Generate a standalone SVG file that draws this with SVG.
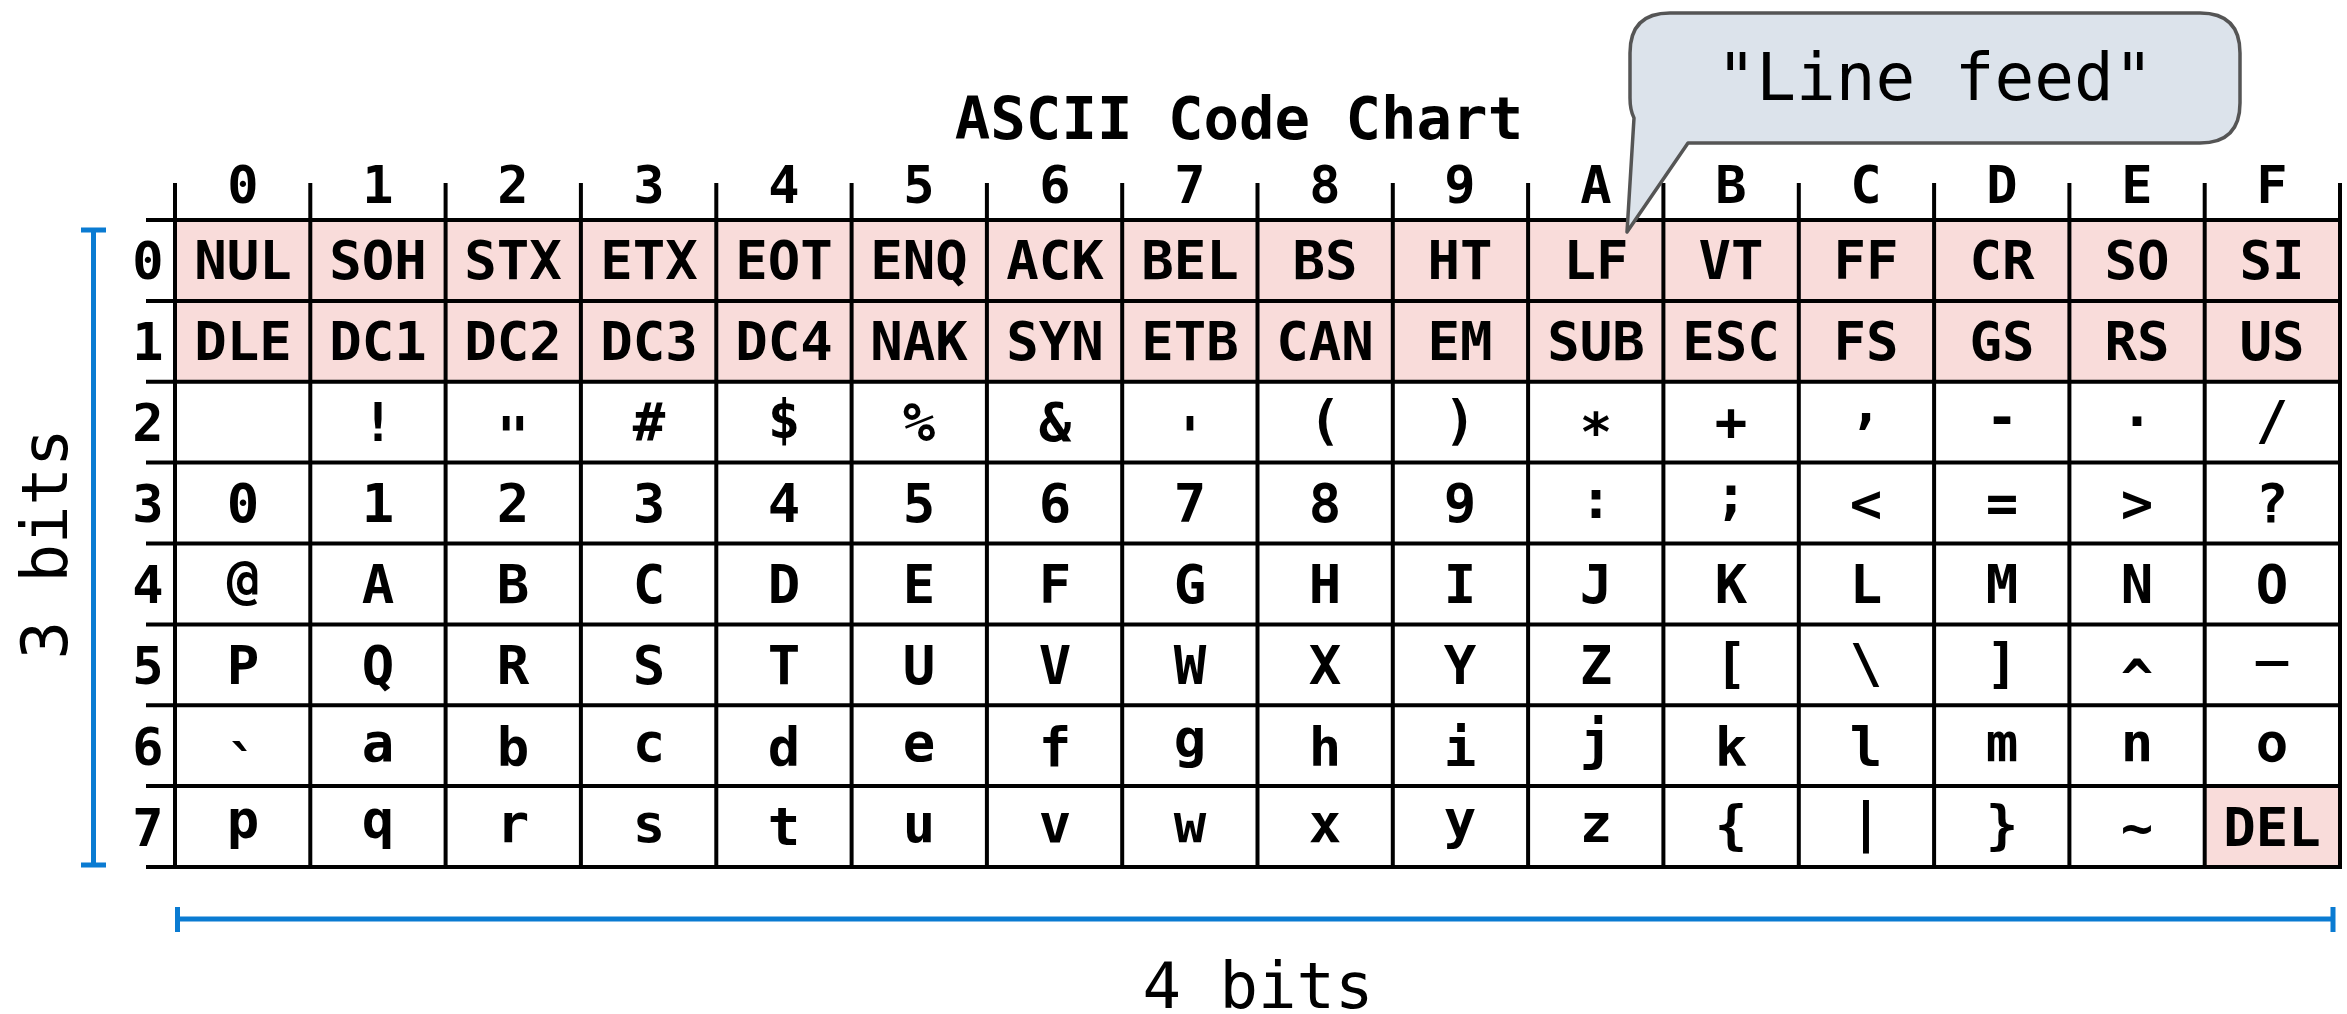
<svg xmlns="http://www.w3.org/2000/svg" width="2347" height="1014" viewBox="0 0 2347 1014">
  <style>
    .mono { font-family: "DejaVu Sans Mono", "Liberation Mono", monospace; fill: #000; }
    .title { font-weight: bold; font-size: 59px; }
    .hdr { font-weight: bold; font-size: 52px; text-anchor: middle; }
    .cell { font-weight: bold; font-size: 54px; text-anchor: middle; }
    .grid { stroke: #000; stroke-width: 4; fill: none; }
    .ctrl { fill: #f9dcda; }
    .dim { stroke: #0a7bd2; stroke-width: 5; fill: none; }
    .dimlabel { font-size: 64px; text-anchor: middle; }
    .callout { fill: #dce3eb; stroke: #555; stroke-width: 3.5; stroke-linejoin: round; }
    .callout-text { font-size: 66px; text-anchor: middle; }
  </style>

  <!-- shaded control-character cells (rows 0-1 and DEL) -->
  <g id="control-cells">
    <rect class="ctrl" x="175" y="220" width="2165" height="161.75"/>
    <rect class="ctrl" x="2204.7" y="786.1" width="135.3" height="80.9"/>
  </g>

  <!-- table rules -->
  <g id="grid" class="grid">
    <path d="M146 220H2342M146 300.9H2342M146 381.75H2342M146 462.6H2342M146 543.5H2342M146 624.4H2342M146 705.25H2342M146 786.1H2342M146 867H2342"/>
    <path d="M175 183V869M310.3 183V869M445.6 183V869M580.9 183V869M716.3 183V869M851.6 183V869M986.9 183V869M1122.2 183V869M1257.5 183V869M1392.8 183V869M1528.1 183V869M1663.4 183V869M1798.8 183V869M1934.1 183V869M2069.4 183V869M2204.7 183V869M2340 183V869"/>
  </g>

  <g id="title">
    <text class="mono title" x="1239" y="139" text-anchor="middle">ASCII Code Chart</text>
  </g>

  <!-- column headers: low nibble -->
  <g id="col-headers" class="mono hdr">
    <text x="243" y="203">0</text><text x="378" y="203">1</text><text x="513" y="203">2</text><text x="649" y="203">3</text>
    <text x="784" y="203">4</text><text x="919" y="203">5</text><text x="1055" y="203">6</text><text x="1190" y="203">7</text>
    <text x="1325" y="203">8</text><text x="1460" y="203">9</text><text x="1596" y="203">A</text><text x="1731" y="203">B</text>
    <text x="1866" y="203">C</text><text x="2002" y="203">D</text><text x="2137" y="203">E</text><text x="2272" y="203">F</text>
  </g>

  <!-- row headers: high bits -->
  <g id="row-headers" class="mono hdr">
    <text x="148" y="279">0</text><text x="148" y="360">1</text><text x="148" y="441">2</text><text x="148" y="522">3</text>
    <text x="148" y="603">4</text><text x="148" y="684">5</text><text x="148" y="765">6</text><text x="148" y="846">7</text>
  </g>

  <!-- cell contents; each glyph is centred on its ink box -->
  <g id="row-0" class="mono cell">
    <text x="243" y="279">NUL</text><text x="378" y="279">SOH</text><text x="513" y="279">STX</text><text x="649" y="279">ETX</text>
    <text x="784" y="279">EOT</text><text x="919" y="279">ENQ</text><text x="1055" y="279">ACK</text><text x="1190" y="279">BEL</text>
    <text x="1325" y="279">BS</text><text x="1460" y="279">HT</text><text x="1596" y="279">LF</text><text x="1731" y="279">VT</text>
    <text x="1866" y="279">FF</text><text x="2002" y="279">CR</text><text x="2137" y="279">SO</text><text x="2272" y="279">SI</text>
  </g>
  <g id="row-1" class="mono cell">
    <text x="243" y="360">DLE</text><text x="378" y="360">DC1</text><text x="513" y="360">DC2</text><text x="649" y="360">DC3</text>
    <text x="784" y="360">DC4</text><text x="919" y="360">NAK</text><text x="1055" y="360">SYN</text><text x="1190" y="360">ETB</text>
    <text x="1325" y="360">CAN</text><text x="1460" y="360">EM</text><text x="1596" y="360">SUB</text><text x="1731" y="360">ESC</text>
    <text x="1866" y="360">FS</text><text x="2002" y="360">GS</text><text x="2137" y="360">RS</text><text x="2272" y="360">US</text>
  </g>
  <g id="row-2" class="mono cell">
    <text x="378" y="441">!</text><text x="513" y="455">"</text><text x="649" y="441">#</text>
    <text x="784" y="438">$</text><text x="919" y="441">%</text><text x="1055" y="441">&amp;</text><text x="1190" y="455">'</text>
    <text x="1325" y="439">(</text><text x="1460" y="439">)</text><text x="1596" y="451">*</text><text x="1731" y="440">+</text>
    <text x="1866" y="423">,</text><text x="2002" y="436">-</text><text x="2137" y="426">.</text><text x="2272" y="439">/</text>
  </g>
  <g id="row-3" class="mono cell">
    <text x="243" y="522">0</text><text x="378" y="522">1</text><text x="513" y="522">2</text><text x="649" y="522">3</text>
    <text x="784" y="522">4</text><text x="919" y="522">5</text><text x="1055" y="522">6</text><text x="1190" y="522">7</text>
    <text x="1325" y="522">8</text><text x="1460" y="522">9</text><text x="1596" y="518">:</text><text x="1731" y="514">;</text>
    <text x="1866" y="522">&lt;</text><text x="2002" y="522">=</text><text x="2137" y="522">&gt;</text><text x="2272" y="522">?</text>
  </g>
  <g id="row-4" class="mono cell">
    <text x="243" y="598">@</text><text x="378" y="603">A</text><text x="513" y="603">B</text><text x="649" y="603">C</text>
    <text x="784" y="603">D</text><text x="919" y="603">E</text><text x="1055" y="603">F</text><text x="1190" y="603">G</text>
    <text x="1325" y="603">H</text><text x="1460" y="603">I</text><text x="1596" y="603">J</text><text x="1731" y="603">K</text>
    <text x="1866" y="603">L</text><text x="2002" y="603">M</text><text x="2137" y="603">N</text><text x="2272" y="603">O</text>
  </g>
  <g id="row-5" class="mono cell">
    <text x="243" y="684">P</text><text x="378" y="684">Q</text><text x="513" y="684">R</text><text x="649" y="684">S</text>
    <text x="784" y="684">T</text><text x="919" y="684">U</text><text x="1055" y="684">V</text><text x="1190" y="684">W</text>
    <text x="1325" y="684">X</text><text x="1460" y="684">Y</text><text x="1596" y="684">Z</text><text x="1731" y="682">[</text>
    <text x="1866" y="682">\</text><text x="2002" y="682">]</text><text x="2137" y="697">^</text><text x="2272" y="653">_</text>
  </g>
  <g id="row-6" class="mono cell">
    <text x="243" y="784">`</text><text x="378" y="761">a</text><text x="513" y="766">b</text><text x="649" y="761">c</text>
    <text x="784" y="766">d</text><text x="919" y="761">e</text><text x="1055" y="766">f</text><text x="1190" y="757">g</text>
    <text x="1325" y="766">h</text><text x="1460" y="766">i</text><text x="1596" y="759">j</text><text x="1731" y="766">k</text>
    <text x="1866" y="766">l</text><text x="2002" y="761">m</text><text x="2137" y="761">n</text><text x="2272" y="761">o</text>
  </g>
  <g id="row-7" class="mono cell">
    <text x="243" y="838">p</text><text x="378" y="838">q</text><text x="513" y="842">r</text><text x="649" y="842">s</text>
    <text x="784" y="845">t</text><text x="919" y="842">u</text><text x="1055" y="842">v</text><text x="1190" y="842">w</text>
    <text x="1325" y="842">x</text><text x="1460" y="838">y</text><text x="1596" y="842">z</text><text x="1731" y="844">{</text>
    <text x="1866" y="841">|</text><text x="2002" y="844">}</text><text x="2137" y="846">~</text><text x="2272" y="846">DEL</text>
  </g>

  <!-- dimension brackets -->
  <g id="dim-rows">
    <path class="dim" d="M81 230H106M93.5 230V865M81 865H106"/>
    <text class="mono dimlabel" transform="translate(67,544) rotate(-90)">3 bits</text>
  </g>
  <g id="dim-cols">
    <path class="dim" d="M177.5 907V932M177.5 919H2333M2333 907V932"/>
    <text class="mono dimlabel" x="1258" y="1008">4 bits</text>
  </g>

  <!-- callout pointing at LF -->
  <g id="callout-lf">
    <path class="callout" d="M1670 13H2200Q2240 13 2240 53V103Q2240 143 2200 143H1688L1627 232L1634 118Q1630 110 1630 98V53Q1630 13 1670 13Z"/>
    <text class="mono callout-text" x="1935" y="100">"Line feed"</text>
  </g>
</svg>
